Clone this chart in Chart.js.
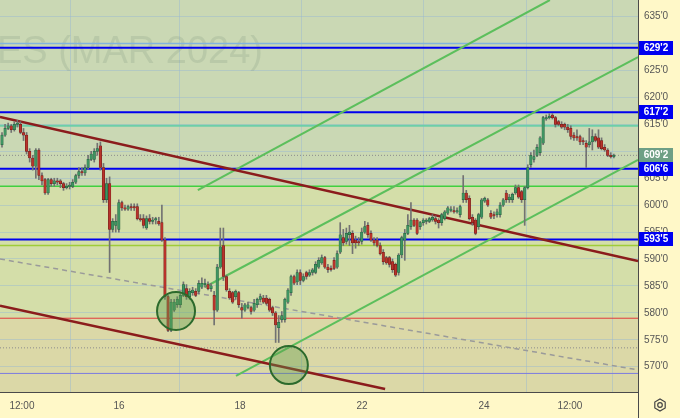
<!DOCTYPE html>
<html>
<head>
<meta charset="utf-8">
<script src="https://cdn.jsdelivr.net/npm/chart.js@4.4.1/dist/chart.umd.min.js"></script>
<style>
  html, body { margin: 0; padding: 0; background: #fff8c8; }
  canvas { display: block; }
</style>
</head>
<body>
<canvas id="chart" width="680" height="418"></canvas>
<script>
// candles, one per bar slot (index 0 = leftmost)
const opens = [
  611.25, 613.0, 614.25, 614.75, 614.0, 615.0, 615.0, 613.5, 613.0, 610.0, 608.75,
  607.25, 610.25, 605.5, 604.75, 602.25, 604.75, 604.0, 604.5, 604.5, 604.0, 603.25, 603.5,
  603.5, 604.25, 605.5, 606.25, 606.0, 607.0, 608.5, 608.5, 610.0, 611.0, 607.0,
  601.0, 604.0, 595.5, 596.25, 595.5, 600.5, 599.5, 599.25, 599.75, 599.75, 599.75,
  597.5, 597.5, 595.75, 597.5, 597.0, 597.25, 597.0, 596.75, 593.5, 583.0, 576.75,
  580.5, 581.5, 581.5, 583.25, 584.5, 583.0, 583.75, 584.0, 584.0, 584.75,
  585.25, 585.25, 584.5, 583.25, 580.5, 588.5, 592.5, 586.75, 584.0, 583.75,
  583.0, 583.75, 581.0, 580.5, 581.0, 581.0, 580.5, 581.5, 582.5, 582.75,
  582.75, 582.5, 581.0, 580.0, 577.25, 578.75, 578.75, 582.0, 583.75, 586.75,
  585.75, 587.5, 586.0, 587.5, 587.0, 587.5, 587.5, 588.5, 589.25, 590.25,
  588.5, 588.25, 589.75, 588.5, 591.25, 594.0, 593.25, 594.5, 594.75, 593.5,
  593.25, 593.25, 595.0, 596.25, 594.75, 593.5, 593.5, 592.5, 591.25, 590.25,
  590.25, 589.5, 589.0, 587.5, 590.75, 593.5, 594.75, 596.0, 597.25, 597.25,
  596.0, 596.75, 597.0, 597.0, 597.25, 597.5, 597.25, 596.75, 597.5, 598.5,
  599.0, 599.0, 598.75, 598.25, 601.0, 602.25, 601.25, 597.75, 597.25, 596.0,
  597.75, 600.75, 601.0, 598.5, 598.25, 598.25, 598.25, 600.0, 602.25, 601.0,
  601.0, 602.25, 603.25, 602.5, 601.0, 603.25, 607.5, 608.5, 609.25, 609.75,
  611.5, 616.0, 616.25, 616.75, 616.25, 615.5, 615.0, 615.0, 614.5, 614.25,
  613.0, 612.75, 612.75, 612.0, 611.5, 611.25, 611.75, 612.75, 612.5, 612.0,
  610.75, 610.25, 609.25, 609.0
];
const highs = [
  613.5, 615.0, 615.25, 615.0, 615.5, 615.75, 615.5, 614.25, 613.5, 610.5, 609.25,
  610.5, 610.5, 606.0, 605.0, 605.0, 605.0, 605.0, 605.0, 604.75, 604.25, 604.0, 604.25,
  604.75, 605.75, 607.0, 607.0, 607.5, 609.25, 610.0, 610.5, 611.5, 611.75, 607.75,
  605.0, 605.25, 597.5, 598.25, 601.0, 600.75, 600.0, 600.0, 600.25, 600.25, 600.25,
  598.25, 598.25, 598.0, 598.25, 597.75, 597.75, 597.75, 600.0, 594.0, 583.25, 582.5,
  582.5, 583.0, 583.75, 585.75, 585.25, 584.5, 584.75, 584.5, 586.0, 586.5,
  586.25, 585.75, 585.5, 584.0, 589.0, 595.75, 595.75, 587.0, 584.5, 584.0,
  584.25, 584.0, 581.75, 581.75, 582.0, 581.25, 582.5, 582.75, 583.5, 583.25,
  583.25, 582.75, 581.25, 580.25, 579.5, 580.25, 582.75, 584.5, 587.0, 587.0,
  588.0, 588.0, 587.25, 587.75, 588.0, 588.25, 589.5, 590.25, 590.75, 590.5,
  589.0, 588.75, 590.25, 591.5, 596.75, 595.5, 595.75, 596.25, 595.25, 594.25,
  594.0, 595.75, 597.0, 596.75, 595.25, 594.0, 594.0, 593.0, 591.75, 590.5,
  590.5, 590.0, 589.25, 591.0, 594.25, 595.5, 598.25, 600.5, 597.5, 597.5,
  597.0, 597.5, 597.5, 597.75, 598.25, 598.0, 597.5, 598.5, 599.0, 599.75,
  599.75, 599.75, 599.5, 600.0, 605.5, 602.75, 601.75, 598.25, 597.5, 598.5,
  601.25, 601.5, 601.25, 599.0, 598.75, 599.25, 600.5, 601.25, 602.75, 602.0,
  602.25, 603.75, 603.75, 602.75, 603.5, 607.5, 609.75, 610.25, 611.25, 612.75,
  616.5, 616.75, 617.0, 617.0, 616.5, 615.75, 615.5, 615.25, 615.0, 614.75,
  613.5, 614.0, 613.0, 612.5, 612.0, 614.25, 614.0, 613.25, 614.0, 612.5,
  611.25, 610.5, 609.75, 609.5
];
const lows = [
  610.75, 612.75, 614.0, 613.5, 613.75, 614.5, 613.25, 612.0, 609.5, 608.0, 606.5,
  605.0, 604.75, 603.75, 602.0, 602.0, 603.5, 603.5, 603.75, 603.25, 602.75, 603.0, 603.0,
  603.25, 604.0, 605.0, 605.5, 605.5, 606.75, 608.25, 608.0, 609.25, 606.5, 600.5,
  600.5, 587.5, 595.0, 595.0, 595.0, 599.0, 599.0, 599.0, 599.0, 599.0, 597.25,
  597.0, 595.75, 595.5, 596.5, 596.5, 596.5, 596.25, 593.25, 582.5, 576.5, 576.5,
  580.25, 581.0, 581.0, 583.0, 582.5, 582.5, 583.25, 583.0, 583.5, 584.5,
  584.75, 584.25, 584.0, 577.75, 580.25, 588.25, 586.0, 584.0, 582.5, 581.75,
  582.5, 581.0, 579.0, 580.25, 580.75, 579.75, 580.25, 581.0, 582.0, 581.75,
  581.5, 580.25, 579.5, 574.5, 574.5, 578.25, 578.25, 581.75, 583.25, 585.25,
  585.25, 585.25, 585.75, 586.25, 586.75, 587.0, 587.25, 588.25, 589.0, 588.25,
  587.5, 587.75, 588.0, 588.25, 591.0, 592.5, 592.75, 592.5, 591.0, 592.0,
  592.5, 592.75, 594.75, 594.0, 593.25, 592.5, 592.25, 590.75, 589.0, 589.0,
  588.5, 587.5, 586.75, 587.0, 590.25, 589.75, 594.5, 595.5, 596.0, 594.5,
  595.5, 596.25, 596.5, 596.75, 597.0, 596.5, 595.75, 596.25, 597.25, 598.25,
  598.75, 598.5, 598.5, 597.75, 600.5, 600.5, 597.25, 596.25, 594.5, 595.5,
  597.5, 600.5, 599.75, 597.5, 597.5, 597.75, 597.75, 599.75, 600.5, 600.5,
  600.5, 602.0, 601.25, 600.5, 596.25, 603.0, 607.0, 608.0, 609.0, 609.25,
  611.25, 615.75, 616.0, 616.0, 614.5, 614.75, 614.25, 614.0, 613.5, 612.25,
  612.0, 612.0, 611.25, 611.25, 607.0, 610.75, 610.25, 611.75, 610.5, 610.25,
  610.0, 609.0, 608.75, 608.75
];
const closes = [
  613.0, 614.25, 614.75, 614.0, 615.0, 615.25, 613.5, 613.0, 610.0, 608.75, 607.25,
  610.25, 605.5, 604.5, 602.25, 604.75, 604.0, 604.5, 604.25, 604.0, 603.25, 603.5, 603.75,
  604.25, 605.5, 606.25, 606.0, 607.0, 608.5, 609.5, 610.0, 610.5, 607.0, 601.0,
  604.0, 595.5, 597.0, 597.0, 600.5, 599.5, 599.25, 599.75, 599.5, 599.5, 597.5,
  597.25, 596.25, 597.5, 597.0, 597.25, 597.5, 596.5, 593.5, 583.0, 576.75, 582.0,
  582.0, 582.5, 583.25, 585.25, 583.0, 584.0, 584.25, 583.25, 585.5, 585.5,
  585.5, 584.5, 585.0, 580.5, 588.5, 592.25, 586.75, 584.25, 582.75, 582.0,
  584.0, 581.5, 580.5, 581.5, 581.5, 580.25, 581.75, 582.5, 583.0, 582.0,
  581.75, 580.5, 580.0, 577.75, 578.25, 579.5, 582.5, 584.25, 586.75, 585.5,
  587.5, 586.0, 586.75, 586.75, 587.5, 588.0, 589.0, 589.75, 590.25, 588.5,
  588.0, 588.0, 588.25, 591.0, 594.5, 593.0, 594.75, 595.0, 593.0, 593.0,
  593.0, 595.0, 596.0, 594.5, 593.5, 593.0, 592.5, 591.0, 589.5, 589.25,
  589.0, 588.0, 587.0, 590.75, 594.0, 594.75, 596.25, 597.25, 596.25, 594.75,
  596.75, 597.25, 597.25, 597.5, 597.75, 597.0, 596.75, 598.25, 598.75, 599.5,
  599.25, 598.75, 599.0, 599.75, 602.25, 601.0, 597.5, 596.75, 594.75, 598.25,
  601.0, 601.25, 600.0, 597.75, 598.0, 598.75, 600.0, 601.0, 601.0, 601.5,
  602.0, 603.25, 601.5, 601.0, 603.25, 607.0, 609.25, 609.0, 610.75, 612.5,
  616.25, 616.25, 616.5, 616.25, 615.0, 615.0, 614.5, 614.5, 614.0, 612.75,
  612.5, 612.5, 611.75, 611.75, 610.75, 611.75, 612.75, 612.0, 610.75, 610.5,
  610.25, 609.25, 609.0, 609.25
];

// visible bar range
const xMin = -0.65;
const xMax = 206.85;

// axis ticks
const timeTickPos = [6.5, 38.05, 77.4, 117.1, 156.75, 184.7];
const timeTickLabels = ["12:00", "16", "18", "22", "24", "12:00"];
const priceTicks = [570, 575, 580, 585, 590, 595, 600, 605, 610, 615, 620, 625, 630, 635];

// horizontal levels
const levelPrices = [630, 629.25, 617.25, 614.75, 609.25, 606.75, 603.5, 593.625, 592.5, 579, 573.5, 568.75];
const levelStyle = [
  { color: "#82b4dc", width: 1.5 },
  { color: "#0000ee", width: 2 },
  { color: "#0000ee", width: 2 },
  { color: "#6ccfa9", width: 2 },
  { color: "#8c8c8c", width: 1, dash: [1, 2] },
  { color: "#0000ee", width: 2 },
  { color: "#40d040", width: 1.5 },
  { color: "#0000ee", width: 2 },
  { color: "#9fcc3a", width: 1.5 },
  { color: "#e03a3a", width: 1 },
  { color: "#8c8c8c", width: 1, dash: [1, 2] },
  { color: "#7b7be0", width: 1 }
];

// right axis price tags
const tagPrices = [629.25, 617.25, 609.25, 606.75, 593.625];
const tagTexts = ["629'2", "617'2", "609'2", "606'6", "593'5"];
const tagColors = ["#0000f0", "#0000f0", "#6e9f85", "#0000f0", "#0000f0"];

// trend lines [x, price] pairs
const redUpper = [[-0.65, 616.4], [206.85, 589.6]];
const redLower = [[-0.65, 581.3], [124.6, 565.85]];
const grayDashed = [[-0.65, 590.0], [206.85, 569.4]];
const greenA = [[63.7, 602.8], [178.2, 638.1]];
const greenB = [[66.0, 584.8], [206.85, 627.5]];
const greenC = [[76.1, 568.3], [206.85, 608.4]];

// circled lows
const circleMarks = [[56.6, 580.35], [93.3, 570.3]];

// background zones
const zonePrices = [603.5, 579];
const zoneColors = ["#cad8b4", "#d4dea9", "#dbd8a7"];

const UP = "#3f9462", UP_EDGE = "#1f5a38", DOWN = "#b8332b", DOWN_EDGE = "#6a1a16";

function pts(arr) { return arr.map(p => ({ x: p[0], y: p[1] })); }

const datasets = [];

datasets.push({
  type: "scatter",
  data: pts(circleMarks),
  pointRadius: 19,
  backgroundColor: "rgba(95,155,75,0.38)",
  borderColor: "#2c6a2c",
  borderWidth: 2,
  order: -1
});

datasets.push({
  type: "bar",
  data: opens.map((o, i) => ({ x: i, y: [o, closes[i]] })),
  barThickness: 2.5,
  grouped: false,
  borderSkipped: false,
  borderWidth: 0.5,
  backgroundColor: c => closes[c.dataIndex] >= opens[c.dataIndex] ? UP : DOWN,
  borderColor: c => closes[c.dataIndex] >= opens[c.dataIndex] ? UP_EDGE : DOWN_EDGE,
  order: 0
});

datasets.push({
  type: "bar",
  data: opens.map((o, i) => ({ x: i, y: [lows[i], highs[i]] })),
  barThickness: 1,
  grouped: false,
  backgroundColor: "#727272",
  order: 1
});

const trendLines = [
  { pts: redUpper, color: "#8b1c1c", width: 2.5 },
  { pts: redLower, color: "#8b1c1c", width: 2.5 },
  { pts: grayDashed, color: "#9a9a9a", width: 1.5, dash: [5, 4] },
  { pts: greenA, color: "#5cbf5c", width: 2 },
  { pts: greenB, color: "#5cbf5c", width: 2 },
  { pts: greenC, color: "#5cbf5c", width: 2 }
];
trendLines.forEach(t => {
  datasets.push({
    type: "line",
    data: pts(t.pts),
    borderColor: t.color,
    borderWidth: t.width,
    borderDash: t.dash || [],
    pointRadius: 0,
    fill: false,
    order: 2
  });
});

levelPrices.forEach((p, i) => {
  const s = levelStyle[i];
  datasets.push({
    type: "line",
    data: [{ x: xMin, y: p }, { x: xMax, y: p }],
    borderColor: s.color,
    borderWidth: s.width,
    borderDash: s.dash || [],
    pointRadius: 0,
    fill: false,
    order: 3
  });
});

const backdrop = {
  id: "backdrop",
  beforeDraw(chart) {
    const { ctx, chartArea: a, scales: { y } } = chart;
    const cuts = [a.top, y.getPixelForValue(zonePrices[0]), y.getPixelForValue(zonePrices[1]), a.bottom];
    ctx.save();
    for (let i = 0; i < 3; i++) {
      ctx.fillStyle = zoneColors[i];
      ctx.fillRect(a.left, cuts[i], a.right - a.left, cuts[i + 1] - cuts[i]);
    }
    ctx.restore();
  },
  beforeDatasetsDraw(chart) {
    const { ctx, chartArea: a } = chart;
    ctx.save();
    ctx.beginPath();
    ctx.rect(a.left, a.top, a.right - a.left, a.bottom - a.top);
    ctx.clip();
    ctx.font = '38px "Liberation Sans"';
    ctx.textAlign = "right";
    ctx.textBaseline = "alphabetic";
    ctx.fillStyle = "rgba(120,145,120,0.2)";
    ctx.fillText("FUTURES (MAR 2024)", 263, 63);
    ctx.restore();
  },
  afterDraw(chart) {
    const { ctx, chartArea: a, scales: { y } } = chart;
    ctx.save();
    ctx.strokeStyle = "#4a4a4a";
    ctx.lineWidth = 1;
    ctx.beginPath();
    ctx.moveTo(a.right + 0.5, 0);
    ctx.lineTo(a.right + 0.5, chart.height);
    ctx.moveTo(0, a.bottom + 0.5);
    ctx.lineTo(a.right, a.bottom + 0.5);
    ctx.stroke();

    ctx.font = 'bold 10px "Liberation Sans"';
    ctx.textAlign = "center";
    ctx.textBaseline = "middle";
    tagPrices.forEach((p, i) => {
      const py = Math.round(y.getPixelForValue(p));
      ctx.fillStyle = tagColors[i];
      ctx.fillRect(a.right + 1, py - 7, 34, 14);
      ctx.fillStyle = "#ffffff";
      ctx.fillText(tagTexts[i], a.right + 18, py + 0.5);
    });

    // settings gear
    const gx = 660, gy = 405;
    ctx.strokeStyle = "#444";
    ctx.lineWidth = 1.2;
    ctx.beginPath();
    for (let k = 0; k < 6; k++) {
      const ang = Math.PI / 6 + k * Math.PI / 3;
      const px = gx + 6 * Math.cos(ang), py = gy + 6 * Math.sin(ang);
      if (k === 0) ctx.moveTo(px, py); else ctx.lineTo(px, py);
    }
    ctx.closePath();
    ctx.stroke();
    ctx.beginPath();
    ctx.arc(gx, gy, 2.3, 0, Math.PI * 2);
    ctx.stroke();
    ctx.restore();
  }
};

// a tick label that sits right under a price tag is covered by it
function hiddenByTag(v) {
  return tagPrices.some(p => Math.abs(p - v) < 1);
}

new Chart(document.getElementById("chart").getContext("2d"), {
  type: "bar",
  data: { datasets },
  options: {
    responsive: false,
    animation: false,
    layout: { padding: 0, autoPadding: false },
    plugins: { legend: { display: false }, tooltip: { enabled: false } },
    scales: {
      x: {
        type: "linear",
        min: xMin,
        max: xMax,
        offset: false,
        grid: { color: "rgba(150,185,210,0.45)", drawTicks: false },
        border: { display: false },
        ticks: {
          color: "#555",
          font: { size: 10, family: "Liberation Sans" },
          padding: 8,
          autoSkip: false,
          maxRotation: 0,
          callback: (v, i) => timeTickLabels[i]
        },
        afterBuildTicks: s => { s.ticks = timeTickPos.map(v => ({ value: v })); },
        afterFit: s => { s.height = 26; s.paddingLeft = 0; s.paddingRight = 0; }
      },
      y: {
        position: "right",
        min: 565.3,
        max: 638.1,
        grid: { color: "rgba(150,185,210,0.45)", drawTicks: false },
        border: { display: false },
        ticks: {
          color: "#555",
          font: { size: 10, family: "Liberation Sans" },
          padding: 6,
          callback: v => hiddenByTag(v) ? "" : Math.round(v) + "'0"
        },
        afterBuildTicks: s => { s.ticks = priceTicks.map(v => ({ value: v })); },
        afterFit: s => { s.width = 42; s.paddingTop = 0; s.paddingBottom = 0; }
      }
    }
  },
  plugins: [backdrop]
});
</script>
</body>
</html>
